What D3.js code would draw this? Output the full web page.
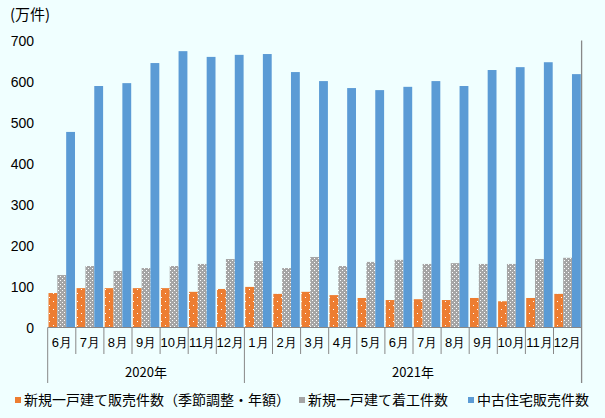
<!DOCTYPE html>
<html><head><meta charset="utf-8">
<script src="https://cdn.jsdelivr.net/npm/d3@7"></script>
<style>
html,body{margin:0;padding:0;background:#F0FFFF;}
svg{display:block;font-family:"Noto Sans CJK JP","Noto Sans",sans-serif;}
</style></head>
<body><svg id="c" width="605" height="418"></svg>
<script>
const months = ["6月","7月","8月","9月","10月","11月","12月","1月","2月","3月","4月","5月","6月","7月","8月","9月","10月","11月","12月"];
const years = [{label:"2020年", count:7},{label:"2021年", count:12}];
const newSales = [84,96,96,96,96,87,94,99,82,87,79,72,67,69,67,72,64,72,82];
const newStarts = [128,150,138,145,150,155,167,162,145,172,150,160,165,155,157,155,155,167,170];
const existingSales = [477,589,596,645,674,660,665,667,623,601,584,579,587,601,589,628,635,647,618];
const seriesNames = ["新規一戸建て販売件数（季節調整・年額）","新規一戸建て着工件数","中古住宅販売件数"];
const yTicks = [0,100,200,300,400,500,600,700];
const colors = ["#ED7D31","#A5A5A5","#5B9BD5"];

const svg = d3.select("#c");
const L = 47.7, R = 581.6, T = 40.5, B = 327.5;
const idx = months.map((m,i)=>i);
const x = d3.scaleBand().domain(idx).range([L,R]).paddingInner(0).paddingOuter(0);
const y = d3.scaleLinear().domain([0,700]).range([B,T]);

const defs = svg.append("defs");
const p1 = defs.append("pattern").attr("id","pOr").attr("patternUnits","userSpaceOnUse").attr("width",8).attr("height",8);
p1.append("rect").attr("width",8).attr("height",8).attr("fill",colors[0]);
p1.append("rect").attr("x",1).attr("y",1).attr("width",1).attr("height",1).attr("fill","#fff");
p1.append("rect").attr("x",5).attr("y",5).attr("width",1).attr("height",1).attr("fill","#fff");
const p2 = defs.append("pattern").attr("id","pGr").attr("patternUnits","userSpaceOnUse").attr("width",4).attr("height",4);
p2.append("rect").attr("width",4).attr("height",4).attr("fill",colors[1]);
p2.append("rect").attr("x",0).attr("y",0).attr("width",1).attr("height",1).attr("fill","#fff");
p2.append("rect").attr("x",2).attr("y",2).attr("width",1).attr("height",1).attr("fill","#fff");

const fills = ["url(#pOr)","url(#pGr)",colors[2]];
const data = [newSales,newStarts,existingSales];
const inner = d3.scaleBand().domain([0,1,2]).range([0,x.bandwidth()]).paddingOuter(0.09).paddingInner(0);

data.forEach((arr,s)=>{
  svg.append("g").selectAll("rect").data(arr).join("rect")
    .attr("x",(d,i)=>x(i)+inner(s))
    .attr("width",inner.bandwidth())
    .attr("y",d=>y(d))
    .attr("height",d=>B-y(d))
    .attr("fill",fills[s]);
});

const yAxis = d3.axisLeft(y).tickValues(yTicks).tickSize(0).tickPadding(0);
const gy = svg.append("g").attr("transform",`translate(34,0)`).call(yAxis);
gy.select(".domain").remove();
gy.selectAll("text").attr("font-size",14).attr("fill","#000").attr("font-family","Liberation Sans, Arial, sans-serif").attr("dy","0.35em");

svg.append("text").attr("x",10).attr("y",20).attr("font-size",15).attr("fill","#000").text("(万件)");

const axCol = "#888";
svg.append("line").attr("x1",L).attr("x2",R).attr("y1",B).attr("y2",B).attr("stroke",axCol).attr("stroke-width",1);
svg.append("line").attr("x1",R).attr("x2",R).attr("y1",T).attr("y2",383).attr("stroke",axCol).attr("stroke-width",1.3);

const xAxis = d3.axisBottom(x).tickFormat(i=>months[i]).tickSize(0).tickPadding(10);
const gx = svg.append("g").attr("transform",`translate(0,${B})`).call(xAxis);
gx.select(".domain").remove();
gx.selectAll("text").attr("font-size",13).attr("fill","#000");
let yearBounds = [0]; years.forEach(yy=>yearBounds.push(yearBounds[yearBounds.length-1]+yy.count));
d3.range(0,months.length).forEach(k=>{
  const xx = x(k);
  const long = yearBounds.includes(k);
  svg.append("line").attr("x1",xx).attr("x2",xx).attr("y1",B).attr("y2",long?383:354).attr("stroke",axCol).attr("stroke-width",1);
});
years.forEach((yy,j)=>{
  const a = x(yearBounds[j]);
  const b = yearBounds[j+1]<months.length ? x(yearBounds[j+1]) : R;
  svg.append("text").attr("x",(a+b)/2).attr("y",372).attr("dy","0.35em").attr("text-anchor","middle").attr("font-size",13).text(yy.label);
});

const legX = [15,299,468];
seriesNames.forEach((n,i)=>{
  svg.append("rect").attr("x",legX[i]).attr("y",397).attr("width",6).attr("height",6).attr("fill",colors[i]);
  svg.append("text").attr("x",legX[i]+9).attr("y",400).attr("dy","0.35em").attr("font-size",14).text(n);
});
</script></body></html>
